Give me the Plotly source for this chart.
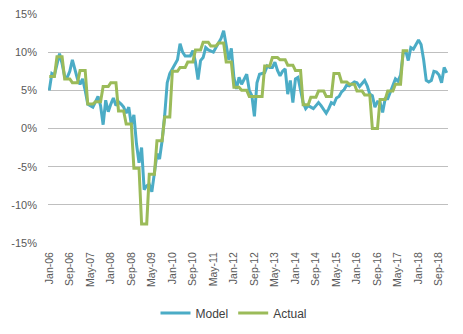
import plotly.graph_objects as go
import pandas as pd

# Monthly categories Jan-06 .. Dec-18
months = pd.date_range("2006-01-01", "2018-12-01", freq="MS").strftime("%b-%y").tolist()

# Model estimate, % y/y
model = [
    5.0, 7.2, 7.0, 8.5, 9.8, 8.5, 6.8, 6.7, 7.5, 9.0, 7.8, 6.5,
    5.8, 6.5, 5.0, 3.2, 3.0, 2.8, 3.5, 4.2, 3.0, 0.5, 3.7, 2.2,
    3.2, 4.0, 3.0, 3.5, 3.2, 2.8, 2.0, 2.8, 0.5, 1.8, -2.0, -4.5,
    -2.5, -8.0, -7.5, -7.3, -8.3, -5.5, -3.3, -4.0, -1.6, 1.7, 6.0, 7.2,
    7.8, 8.5, 9.0, 11.1, 10.0, 9.5, 9.5, 9.5, 10.2, 8.7, 6.4, 8.9,
    9.3, 10.6, 10.3, 10.2, 10.0, 10.6, 11.2, 11.8, 12.8, 10.6, 9.0, 10.5,
    6.7, 5.2, 6.7, 5.8, 6.5, 7.1, 5.0, 4.3, 1.6, 6.0, 7.1, 7.2,
    7.3, 8.2, 8.0, 8.0, 8.7, 7.6, 6.9, 7.5, 7.8, 4.5, 6.3, 3.4,
    6.5, 6.7, 5.0, 3.4, 2.6, 3.0, 2.8, 2.6, 3.0, 3.4, 3.0, 2.5,
    2.0, 2.6, 3.4, 3.2, 4.0, 4.2, 4.8, 5.1, 5.7, 5.6, 5.9, 6.1,
    6.0, 5.5, 5.9, 6.3, 5.6, 4.5, 4.3, 2.8, 3.5, 3.4, 2.1, 3.9,
    3.9, 4.8, 5.8, 6.5, 6.2, 7.0, 9.8, 10.2, 8.9, 10.6, 10.4, 11.0,
    11.6, 11.0, 9.0, 6.3, 6.1, 6.3, 7.5, 7.4, 7.0, 6.0, 8.0, 7.3,
]

# Actual outturn (quarterly figure held for each month of the quarter), Jan-06 .. Sep-17
actual = [
    6.8, 6.8, 6.8, 9.4, 9.4, 9.4, 6.5, 6.5, 6.5, 6.0, 6.0, 6.0,
    7.6, 7.6, 7.6, 3.2, 3.2, 3.2, 3.5, 3.5, 3.5, 5.5, 5.5, 5.5,
    6.0, 6.0, 6.0, 2.3, 2.3, 2.3, 0.6, 0.6, 0.6, -5.2, -5.2, -5.2,
    -12.5, -12.5, -12.5, -6.0, -6.0, -6.0, -1.6, -1.6, -1.6, 1.5, 1.5, 1.5,
    7.5, 7.5, 7.5, 8.0, 8.0, 8.0, 8.7, 8.7, 8.7, 10.3, 10.3, 10.3,
    11.3, 11.3, 11.3, 10.8, 10.8, 10.8, 11.2, 11.2, 11.2, 8.7, 8.7, 8.7,
    5.4, 5.4, 5.4, 5.0, 5.0, 5.0, 4.2, 4.2, 4.2, 4.2, 4.2, 4.2,
    8.2, 8.2, 8.2, 9.3, 9.3, 9.3, 9.0, 9.0, 9.0, 8.3, 8.3, 8.3,
    7.6, 7.6, 7.6, 3.1, 3.1, 3.1, 4.1, 4.1, 4.1, 4.9, 4.9, 4.9,
    4.2, 4.2, 4.2, 7.2, 7.2, 7.2, 6.1, 6.1, 6.1, 5.8, 5.8, 5.8,
    4.9, 4.9, 4.9, 4.4, 4.4, 4.4, 0.0, 0.0, 0.0, 3.8, 3.8, 3.8,
    4.9, 4.9, 4.9, 5.8, 5.8, 5.8, 10.2, 10.2, 10.2,
]

tick_labels = ["Jan-06", "Sep-06", "May-07", "Jan-08", "Sep-08", "May-09", "Jan-10",
               "Sep-10", "May-11", "Jan-12", "Sep-12", "May-13", "Jan-14", "Sep-14",
               "May-15", "Jan-16", "Sep-16", "May-17", "Jan-18", "Sep-18"]
y_ticks = [-15, -10, -5, 0, 5, 10, 15]

x_idx = list(range(len(months)))
tick_pos = [months.index(t) for t in tick_labels]

fig = go.Figure()
fig.add_trace(go.Scatter(x=x_idx, y=model, mode="lines", name="Model",
                         line=dict(color="#4BACC6", width=3)))
fig.add_trace(go.Scatter(x=x_idx[:len(actual)], y=actual, mode="lines", name="Actual",
                         line=dict(color="#9BBB59", width=3)))

tick_font = dict(family="Liberation Sans, Arial, sans-serif", size=11, color="#595959")

fig.update_layout(
    width=463, height=334,
    margin=dict(l=48, r=15, t=14, b=91, autoexpand=False),
    paper_bgcolor="white", plot_bgcolor="white",
    showlegend=True,
    legend=dict(orientation="h", x=0.465, xanchor="center", y=-0.306, yanchor="middle",
                font=dict(family="Liberation Sans, Arial, sans-serif", size=12, color="#404040"),
                itemwidth=30, tracegroupgap=0),
    xaxis=dict(range=[-0.5, len(months) - 0.5], tickmode="array", tickvals=tick_pos,
               ticktext=tick_labels, tickangle=-90, showgrid=False, zeroline=False,
               showline=False, ticks="", automargin=False,
               tickfont=dict(family="Liberation Sans Narrow, Liberation Sans, Arial, sans-serif",
                             size=10.5, color="#595959"),
               ticklabelstandoff=6),
    yaxis=dict(range=[-15, 15], tickmode="array", tickvals=y_ticks,
               ticktext=[f"{v}%" for v in y_ticks], showgrid=True, gridcolor="#BFBFBF",
               gridwidth=1, zeroline=False, showline=False, ticks="", tickfont=tick_font,
               ticklabelstandoff=10, automargin=False),
)

fig.write_html("out.html")
